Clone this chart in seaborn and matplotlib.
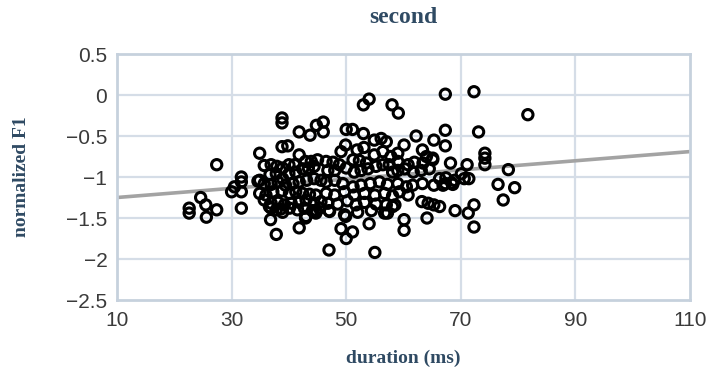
import numpy as np
import matplotlib
matplotlib.use("Agg")
import matplotlib.pyplot as plt
import pandas as pd
import seaborn as sns

# duration (ms) and normalized F1, sparse points first
duration = [
    27.4, 22.6, 22.6, 24.6, 25.5, 25.6, 27.4,
    31.7, 31.7, 30.0, 30.5, 31.7, 31.7,
    38.8, 38.8, 41.8, 43.7, 38.8, 39.8, 34.9, 41.8, 36.8, 37.8, 41.8, 42.9, 34.9, 34.9,
    44.8, 46.0, 46.0, 50.0, 51.1, 53.0, 54.0, 53.0, 49.1, 49.9,
    67.3, 72.3, 58.0, 59.1, 81.7, 67.3, 73.1, 62.2, 65.3, 67.3, 60.1, 63.3,
    74.2, 74.2, 74.2, 68.2, 71.1, 78.3,
    76.5, 79.4, 77.4, 72.3, 71.3, 72.3, 69.0, 47.0, 55.0, 60.1, 60.1, 64.1, 54.0,
    49.1, 51.1, 50.0,
    63.2, 64.3, 65.3, 66.3, 71.4, 63.3, 65.3, 67.3, 68.4, 57.2, 58.1,
    36.9, 38.6, 44.8, 47.0, 49.9,
    # dense left block
    35.7, 36.9, 37.9, 38.9, 40.0, 41.0, 42.9, 43.9, 45.0,
    36.7, 37.8, 38.9, 40.0, 41.2, 42.4, 43.4, 44.4,
    34.6, 35.7, 36.9, 38.1, 39.4, 40.7, 41.8, 43.1, 44.4, 45.6,
    36.0, 37.2, 38.8, 40.1, 41.2, 42.4, 43.6, 44.7,
    35.7, 36.9, 38.1, 39.2, 40.4, 41.8, 43.0, 44.4, 45.6,
    36.6, 37.8, 38.9, 40.1, 41.5, 42.7, 44.1, 45.3, 43.0, 44.7,
    # dense middle block
    54.9, 56.1, 57.0, 51.9, 53.1, 54.9, 56.4, 57.8,
    46.5, 47.7, 48.8, 50.0, 51.2, 52.3, 53.5, 55.2, 56.4, 57.5,
    46.8, 48.0, 51.4, 52.6, 53.8, 58.1,
    46.5, 48.0, 49.4, 51.2, 52.6, 54.2, 55.8, 57.2,
    46.5, 48.0, 49.7, 51.4, 53.2, 55.0, 56.7, 58.1,
    46.8, 48.5, 50.2, 51.7, 53.2, 55.2, 57.0,
    47.1, 49.7, 52.0, 54.4, 56.7,
    # dense right block
    59.0, 64.0, 65.1,
    59.0, 60.8, 61.9, 63.4, 65.1, 70.1,
    59.0, 60.2, 61.7, 63.1, 64.5, 66.3, 67.4, 68.9, 70.6,
    59.0, 60.5, 61.6, 66.9, 68.6,
    59.3, 60.8, 58.5,
]
norm_f1 = [
    -0.85, -1.38, -1.44, -1.25, -1.34, -1.49, -1.40,
    -1.00, -1.06, -1.18, -1.12, -1.18, -1.38,
    -0.28, -0.34, -0.45, -0.49, -0.63, -0.62, -0.71, -0.73, -1.52, -1.70, -1.62, -1.50, -1.04, -1.20,
    -0.37, -0.33, -0.45, -0.42, -0.42, -0.12, -0.05, -0.47, -0.69, -0.61,
    0.01, 0.04, -0.12, -0.22, -0.24, -0.43, -0.45, -0.50, -0.55, -0.62, -0.61, -0.67,
    -0.71, -0.77, -0.85, -0.83, -0.85, -0.91,
    -1.09, -1.13, -1.28, -1.34, -1.44, -1.61, -1.41, -1.89, -1.92, -1.52, -1.65, -1.50, -1.57,
    -1.63, -1.67, -1.75,
    -1.30, -1.32, -1.34, -1.36, -1.02, -1.08, -1.10, -1.08, -1.07, -1.44, -1.36,
    -1.38, -1.39, -1.41, -1.41, -1.48,
    -0.86, -0.85, -0.87, -0.89, -0.85, -0.85, -0.81, -0.81, -0.79,
    -0.97, -0.96, -1.02, -0.96, -0.94, -0.90, -0.89, -0.87,
    -1.05, -1.08, -1.09, -1.06, -1.10, -1.08, -1.06, -1.04, -1.02, -1.04,
    -1.22, -1.18, -1.17, -1.20, -1.18, -1.20, -1.21, -1.22,
    -1.28, -1.32, -1.31, -1.34, -1.32, -1.31, -1.28, -1.32, -1.30,
    -1.36, -1.40, -1.43, -1.38, -1.40, -1.38, -1.41, -1.38, -1.48, -1.44,
    -0.55, -0.53, -0.57, -0.67, -0.64, -0.73, -0.69, -0.75,
    -0.81, -0.82, -0.85, -0.89, -0.79, -0.80, -0.83, -0.87, -0.85, -0.85,
    -0.92, -0.92, -0.94, -0.92, -0.90, -0.94,
    -1.06, -1.04, -1.08, -1.12, -1.10, -1.08, -1.06, -1.09,
    -1.20, -1.22, -1.18, -1.22, -1.20, -1.22, -1.20, -1.23,
    -1.32, -1.33, -1.29, -1.34, -1.31, -1.33, -1.34,
    -1.42, -1.46, -1.43, -1.41, -1.44,
    -0.71, -0.75, -0.77,
    -0.81, -0.85, -0.82, -0.83, -0.79, -0.96,
    -0.92, -0.90, -0.94, -0.92, -0.90, -1.02, -1.01, -1.04, -1.02,
    -1.08, -1.12, -1.10, -1.10, -1.09,
    -1.18, -1.22, -1.34,
]

# linear trend line ends
trend_x = [10, 110]
trend_y = [-1.25, -0.69]

x_ticks = [10, 30, 50, 70, 90, 110]
y_ticks = [0.5, 0, -0.5, -1, -1.5, -2, -2.5]
y_labels = ["0.5", "0", "\u22120.5", "\u22121", "\u22121.5", "\u22122", "\u22122.5"]

df = pd.DataFrame({"duration": duration, "f1": norm_f1})

sns.set_style("white")
plt.rcParams["font.family"] = ["Liberation Sans", "DejaVu Sans"]

fig = plt.figure(figsize=(7.16, 3.73), dpi=100)
ax = fig.add_axes([0.1634, 0.1957, 0.8003, 0.6595])

grid_c = "#d5dde7"
for v in x_ticks[1:-1]:
    ax.axvline(v, color=grid_c, lw=1.6, zorder=0)
for v in y_ticks[1:-1]:
    ax.axhline(v, color=grid_c, lw=1.6, zorder=0)

sns.lineplot(x=trend_x, y=trend_y, ax=ax, color="#a3a3a3", lw=2.6, zorder=1)
sns.scatterplot(data=df, x="duration", y="f1", ax=ax, marker="o", s=55,
                facecolors="none", edgecolor="black", linewidth=2.2, zorder=2)

ax.set_xlim(10, 110)
ax.set_ylim(-2.5, 0.5)
ax.set_xticks(x_ticks)
ax.set_yticks(y_ticks)
ax.set_yticklabels(y_labels)
ax.tick_params(axis="both", labelsize=15, colors="#3a3a3a", length=0, pad=7)
ax.tick_params(axis="x", pad=8)
for s in ax.spines.values():
    s.set_color("#c6d1dd")
    s.set_linewidth(2)

serif = ["Liberation Serif", "DejaVu Serif"]
title_c = "#2f4a63"
ax.set_title("second", family=serif, fontweight="bold", fontsize=17, color=title_c, pad=22)
ax.set_xlabel("duration (ms)", family=serif, fontweight="bold", fontsize=14, color=title_c, labelpad=14)
ax.set_ylabel("normalized F1", family=serif, fontweight="bold", fontsize=14, color=title_c, labelpad=26)

fig.savefig("out.png", dpi=100)
